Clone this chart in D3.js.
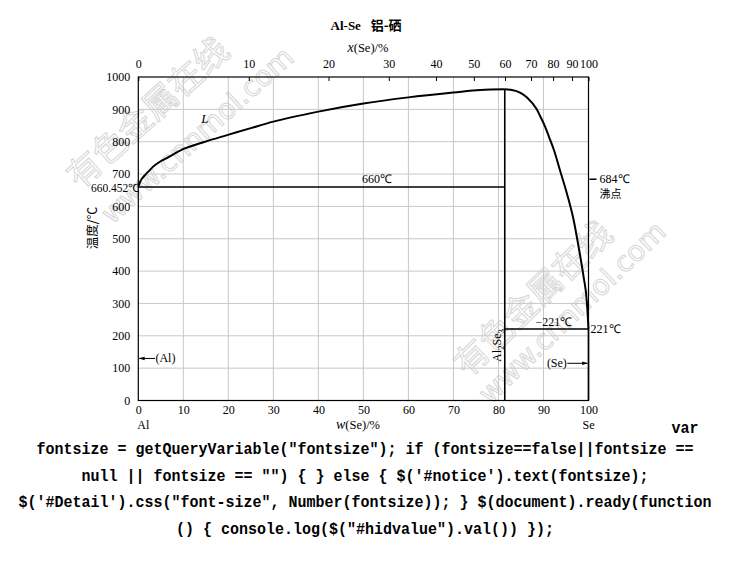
<!DOCTYPE html>
<html><head><meta charset="utf-8">
<script src="https://cdn.jsdelivr.net/npm/d3@7"></script>
<style>body{margin:0;background:#fff}svg{display:block}</style>
</head><body>
<script>
// ---- data ----
const wtTicks = [0,10,20,30,40,50,60,70,80,90,100];
const tempTicks = [0,100,200,300,400,500,600,700,800,900,1000];
const atTicks = [0,10,20,30,40,50,60,70,80,90,100];
const massAl = 26.98, massSe = 78.97;
// liquidus, Al side up to Al2Se3 maximum  [wt% Se, °C]
const liquidusAl = [[0,660.452],[0.4,676],[1.5,697],[2.6,713],[3.3,723],[4.8,738],[6.3,749],[9.8,776],[14.8,800],[19.9,821],[25,842],[30,862],[40,893],[50,918],[60,937],[70,952],[76,960],[81.4,962]];
// liquidus, Se side
const liquidusSe = [[81.4,962],[83,960],[84.9,951],[86.4,936],[88.5,900],[89.3,878],[90.4,845],[91.5,805],[92.3,775],[93.7,710],[95.2,640],[96.7,558],[97.8,475],[98.9,383],[99.6,311],[100,221]];
const monotecticT = 660, compoundWt = 81.4, eutecticT = 221, boilT = 684;
const codeLines = [
  "fontsize = getQueryVariable(\"fontsize\"); if (fontsize==false||fontsize ==",
  "null || fontsize == \"\") { } else { $('#notice').text(fontsize);",
  "$('#Detail').css(\"font-size\", Number(fontsize)); } $(document).ready(function",
  "() { console.log($(\"#hidvalue\").val()) });"
];

(function(){
const W = 730, H = 578;
const svg = d3.select("body").append("svg").attr("width", W).attr("height", H);
svg.append("rect").attr("width", W).attr("height", H).attr("fill", "#fff");

const x = d3.scaleLinear().domain([0,100]).range([138.3, 588.5]);
const y = d3.scaleLinear().domain([0,1000]).range([400.5, 77]);
const at2wt = a => a*massSe/(a*massSe + (100-a)*massAl)*100;
const serif = "'Liberation Serif','Times New Roman',serif";
const cjk = "'Noto Sans CJK SC',sans-serif";

// watermarks
const wm = svg.append("g").attr("fill","none").attr("stroke","#d6d6d6").attr("stroke-width",1);
wm.append("text").attr("transform","translate(80,190) rotate(-42)").attr("font-family",cjk).attr("font-size",34).text("有色金属在线");
wm.append("text").attr("transform","translate(112,225) rotate(-42)").attr("font-family","'DejaVu Sans',sans-serif").attr("font-size",28).text("www.cnnmol.com");
wm.append("text").attr("transform","translate(468,378) rotate(-44)").attr("font-family",cjk).attr("font-size",34).text("有色金属在线");
wm.append("text").attr("transform","translate(490,405) rotate(-44)").attr("font-family","'DejaVu Sans',sans-serif").attr("font-size",28).text("www.cnnmol.com");

// grid
const g = svg.append("g");
g.selectAll(".vg").data(wtTicks.slice(1,-1)).join("line")
  .attr("x1", d=>x(d)).attr("x2", d=>x(d)).attr("y1", y(0)).attr("y2", y(1000))
  .attr("stroke","#c8c8c8").attr("stroke-width",1);
g.selectAll(".hg").data(tempTicks.slice(1,-1)).join("line")
  .attr("x1", x(0)).attr("x2", x(100)).attr("y1", d=>y(d)).attr("y2", d=>y(d))
  .attr("stroke","#c8c8c8").attr("stroke-width",1);

// frame
g.append("rect").attr("x", x(0)).attr("y", y(1000)).attr("width", x(100)-x(0)).attr("height", y(0)-y(1000))
  .attr("fill","none").attr("stroke","#000").attr("stroke-width",1.2);

// axes
const fmt = d3.format("d");
const bottomAxis = d3.axisBottom(x).tickValues(wtTicks).tickFormat(fmt).tickSize(0).tickPadding(5);
const ba = svg.append("g").attr("transform",`translate(0,${y(0)})`).call(bottomAxis);
const leftAxis = d3.axisLeft(y).tickValues(tempTicks).tickFormat(fmt).tickSize(0).tickPadding(8);
const la = svg.append("g").attr("transform",`translate(${x(0)},0)`).call(leftAxis);
const topAxis = d3.axisTop(x).tickValues(atTicks.map(at2wt)).tickFormat((d,i)=>atTicks[i]).tickSizeInner(-4).tickSizeOuter(0).tickPadding(9);
const ta = svg.append("g").attr("transform",`translate(0,${y(1000)})`).call(topAxis);
[ba,la,ta].forEach(a=>{
  a.select(".domain").remove();
  a.selectAll("text").attr("font-family",serif).attr("font-size",12).attr("fill","#000");
  a.selectAll("line").attr("stroke","#000");
});

// curves
const line = d3.line().x(d=>x(d[0])).y(d=>y(d[1])).curve(d3.curveMonotoneX);
svg.append("path").datum(liquidusAl).attr("d", line).attr("fill","none").attr("stroke","#000").attr("stroke-width",2);
svg.append("path").datum(liquidusSe).attr("d", line).attr("fill","none").attr("stroke","#000").attr("stroke-width",2);

// invariant lines
svg.append("line").attr("x1",x(0)).attr("x2",x(compoundWt)).attr("y1",y(monotecticT)).attr("y2",y(monotecticT)).attr("stroke","#000").attr("stroke-width",1.6);
svg.append("line").attr("x1",x(compoundWt)).attr("x2",x(compoundWt)).attr("y1",y(962)).attr("y2",y(0)).attr("stroke","#000").attr("stroke-width",1.6);
svg.append("line").attr("x1",x(compoundWt)).attr("x2",x(100)).attr("y1",y(eutecticT)).attr("y2",y(eutecticT)).attr("stroke","#000").attr("stroke-width",1.6);
svg.append("line").attr("x1",x(100)).attr("x2",x(100)).attr("y1",y(eutecticT)).attr("y2",y(0)).attr("stroke","#000").attr("stroke-width",1.6);

// labels
const T = (px,py,str,opt={}) => svg.append("text").attr("x",px).attr("y",py)
  .attr("font-family",opt.ff||serif).attr("font-size",opt.fs||12)
  .attr("text-anchor",opt.anchor||"start").attr("font-weight",opt.fw||"normal")
  .attr("font-style",opt.it?"italic":"normal").attr("fill","#000").text(str);

// title
const title = svg.append("text").attr("x",366).attr("y",30).attr("text-anchor","middle").attr("font-size",13).attr("font-weight","bold");
title.append("tspan").attr("font-family",serif).text("Al-Se\u00a0\u00a0\u00a0");
title.append("tspan").attr("font-family",cjk).text("铝-硒");

// top axis title
const xtitle = svg.append("text").attr("x",368).attr("y",52).attr("text-anchor","middle").attr("font-family",serif).attr("font-size",12.5);
xtitle.append("tspan").attr("font-style","italic").attr("font-size",14).text("x");
xtitle.append("tspan").text("(Se)/%");
// bottom axis title
const wtitle = svg.append("text").attr("x",358).attr("y",429).attr("text-anchor","middle").attr("font-family",serif).attr("font-size",12.5);
wtitle.append("tspan").attr("font-style","italic").attr("font-size",14).text("w");
wtitle.append("tspan").text("(Se)/%");
T(x(0)-1, 429, "Al");
T(x(100), 429, "Se", {anchor:"middle"});

// y title
svg.append("text").attr("transform","translate(97,228) rotate(-90)").attr("text-anchor","middle")
  .attr("font-family",cjk).attr("font-size",12.5).text("温度/℃");

// 660.452
T(x(0)+1, y(660.452)+5, "660.452℃", {anchor:"end", fs:11.5});
// L
T(x(14), y(870)+4, "L", {it:true, fs:13});
// 660
T(x(53), y(monotecticT)-4, "660℃", {anchor:"middle"});
// 684 boiling
svg.append("line").attr("x1",x(100)+1).attr("x2",x(100)+8).attr("y1",y(boilT)).attr("y2",y(boilT)).attr("stroke","#000").attr("stroke-width",1.5);
T(x(100)+11, y(boilT)+4, "684℃");
T(x(100)+11, y(boilT)+19, "沸点", {ff:cjk, fs:11});
// 221
T(x(100)+2, y(eutecticT)+4, "221℃");
T(x(92.3), y(eutecticT)-3, "\u2212221℃", {anchor:"middle"});
// Al2Se3
const alse = svg.append("text").attr("transform",`translate(${x(compoundWt)-4},${y(170)}) rotate(-90)`)
  .attr("text-anchor","middle").attr("font-family",serif).attr("font-size",12);
alse.append("tspan").text("Al");
alse.append("tspan").attr("font-size",9).attr("dy",3).text("2");
alse.append("tspan").attr("dy",-3).text("Se");
alse.append("tspan").attr("font-size",9).attr("dy",3).text("3");

// arrows
const defs = svg.append("defs");
defs.append("marker").attr("id","arr").attr("viewBox","0 0 10 10").attr("refX",9).attr("refY",5)
  .attr("markerWidth",6).attr("markerHeight",6).attr("orient","auto-start-reverse")
  .append("path").attr("d","M0,2 L10,5 L0,8 z").attr("fill","#000");
svg.append("line").attr("x1",x(3.7)).attr("x2",x(0)+1).attr("y1",y(130)).attr("y2",y(130)).attr("stroke","#000").attr("stroke-width",1).attr("marker-end","url(#arr)");
T(x(3.8), y(130)+4, "(Al)");
svg.append("line").attr("x1",x(95.3)).attr("x2",x(100)-1).attr("y1",y(115)).attr("y2",y(115)).attr("stroke","#000").attr("stroke-width",1).attr("marker-end","url(#arr)");
T(x(95.2), y(115)+4, "(Se)", {anchor:"end"});

// trailing page text (monospace, 9px per character, slightly tall)
const mono = "'Liberation Mono','DejaVu Sans Mono',monospace";
svg.append("text").attr("transform","translate(685,433) scale(1,1.15)").attr("text-anchor","middle").attr("font-family",mono)
  .attr("font-weight","bold").attr("font-size",15).text("var");
svg.selectAll(".code").data(codeLines).join("text")
  .attr("transform",(d,i)=>`translate(365,${454+i*26.6}) scale(1,1.15)`).attr("text-anchor","middle")
  .attr("font-family",mono).attr("font-weight","bold").attr("font-size",15)
  .style("white-space","pre").text(d=>d);
})();
</script>
</body></html>
